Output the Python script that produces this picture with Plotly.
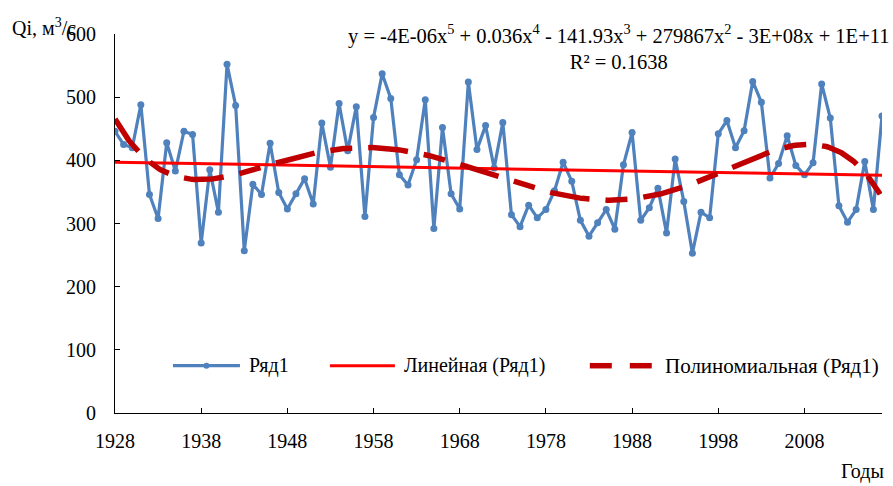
import numpy as np
import plotly.graph_objects as go

# Annual discharge series Qi (m3/s), 1928-2017
years = list(range(1928, 2018))
flow = [446, 425, 420, 488, 346, 308, 428, 383, 446, 441,
        269, 385, 318, 552, 487, 257, 362, 346, 427, 349,
        323, 347, 371, 331, 459, 389, 490, 415, 485, 311,
        468, 537, 498, 377, 361, 401, 496, 292, 452, 347,
        323, 524, 417, 455, 388, 460, 314, 295, 329, 309,
        322, 352, 397, 367, 305, 280, 301, 322, 291, 393,
        444, 305, 325, 356, 285, 402, 335, 253, 318, 309,
        442, 463, 420, 447, 525, 492, 372, 395, 439, 392,
        377, 396, 521, 467, 328, 302, 322, 398, 322, 470]

x_ticks = [1928, 1938, 1948, 1958, 1968, 1978, 1988, 1998, 2008]
y_ticks = [0, 100, 200, 300, 400, 500, 600]

series_name = "Ряд1"
linear_name = "Линейная (Ряд1)"
poly_name = "Полиномиальная (Ряд1)"
equation = ("y = -4E-06x<sup>5</sup> + 0.036x<sup>4</sup> - 141.93x<sup>3</sup> + "
            "279867x<sup>2</sup> - 3E+08x + 1E+11<br>R² = 0.1638")

# Trend lines fitted to the series (centred x keeps the 5th-degree fit stable)
xa = np.array(years, dtype=float)
ya = np.array(flow, dtype=float)
xc = xa - xa.mean()
lin = np.polyval(np.polyfit(xc, ya, 1), xc)
xs = np.linspace(xc.min(), xc.max(), 400)
poly = np.polyval(np.polyfit(xc, ya, 5), xs)
xs_years = xs + xa.mean()

BLUE = "#4F81BD"
RED = "#FF0000"
DARKRED = "#C00000"
FONT = '"Liberation Serif", "Times New Roman", Times, serif'

W, H = 893, 486
L, R, T, B = 115, 10.7, 34.3, 72.7
pw, ph = W - L - R, H - T - B


def px(x):
    return (x - L) / pw


def py(y):
    return (H - B - y) / ph


fig = go.Figure()
fig.add_trace(go.Scatter(x=years, y=flow, mode="lines+markers",
                         line=dict(color=BLUE, width=3.2),
                         marker=dict(color=BLUE, size=7), name=series_name,
                         showlegend=False))
fig.add_trace(go.Scatter(x=years, y=lin, mode="lines",
                         line=dict(color=RED, width=3), name=linear_name,
                         showlegend=False))
fig.add_trace(go.Scatter(x=xs_years, y=poly, mode="lines",
                         line=dict(color=DARKRED, width=5.5,
                                   dash="40px,16px,22px,16px"),
                         name=poly_name, showlegend=False))

# Legend row drawn by hand
ly = py(366)
shapes = [
    dict(type="line", xref="paper", yref="paper", x0=px(173), x1=px(240),
         y0=ly, y1=ly, line=dict(color=BLUE, width=3.2)),
    dict(type="circle", xref="paper", yref="paper", x0=px(203.5), x1=px(209.5),
         y0=py(369), y1=py(363), fillcolor=BLUE, line=dict(width=0)),
    dict(type="line", xref="paper", yref="paper", x0=px(330), x1=px(395),
         y0=ly, y1=ly, line=dict(color=RED, width=3)),
    dict(type="line", xref="paper", yref="paper", x0=px(590), x1=px(612),
         y0=ly, y1=ly, line=dict(color=DARKRED, width=5.5)),
    dict(type="line", xref="paper", yref="paper", x0=px(630), x1=px(652),
         y0=ly, y1=ly, line=dict(color=DARKRED, width=5.5)),
]

annotations = [
    dict(text=series_name, x=px(247), y=ly, xanchor="left", yanchor="middle"),
    dict(text=linear_name, x=px(402), y=ly, xanchor="left", yanchor="middle"),
    dict(text=poly_name, x=px(663), y=ly, xanchor="left", yanchor="middle",
         font=dict(size=21)),
    dict(text=equation, x=px(619), y=py(47.5), xanchor="center",
         yanchor="middle", align="center", font=dict(size=20.5)),
    dict(text="Qi, м<sup>3</sup>/с", x=px(10), y=py(27), xanchor="left",
         yanchor="middle"),
    dict(text="Годы", x=px(886), y=py(472), xanchor="right", yanchor="middle"),
]
for a in annotations:
    a.update(xref="paper", yref="paper", showarrow=False)
    a.setdefault("font", {})
    a["font"] = dict(family=FONT, size=a["font"].get("size", 20), color="black")

axis_common = dict(showgrid=False, zeroline=False, showline=True,
                   linecolor="#000000", linewidth=1.2, ticks="inside",
                   ticklen=5, tickcolor="#000000", tickwidth=1.2,
                   tickfont=dict(family=FONT, size=20, color="black"))

fig.update_layout(
    width=W, height=H,
    margin=dict(l=L, r=R, t=T, b=B),
    paper_bgcolor="white", plot_bgcolor="white",
    font=dict(family=FONT, size=20, color="black"),
    xaxis=dict(range=[1928, 2017], tickvals=x_ticks, ticklabelstandoff=10,
               **axis_common),
    yaxis=dict(range=[0, 600], tickvals=y_ticks, ticklabelstandoff=14,
               **axis_common),
    shapes=shapes, annotations=annotations, showlegend=False,
)

fig.write_html("out.html")
